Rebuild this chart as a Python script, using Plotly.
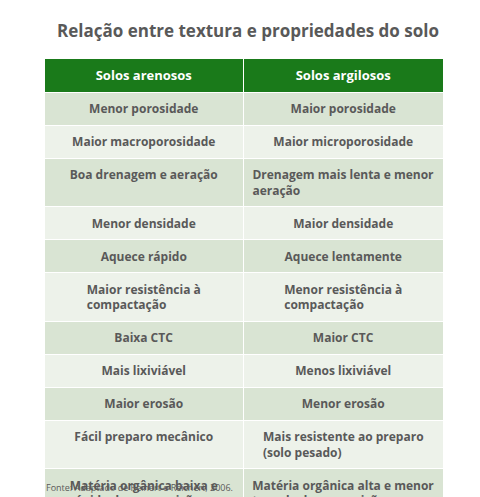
import plotly.graph_objects as go

header = ["Solos arenosos", "Solos argilosos"]
arenosos = ["Menor porosidade", "Maior macroporosidade", "Boa drenagem e aeração<br> ",
            "Menor densidade", "Aquece rápido", "Maior resistência à<br>compactação",
            "Baixa CTC", "Mais lixiviável", "Maior erosão", "Fácil preparo mecânico<br> ",
            "Matéria orgânica baixa e<br>rápida de composição"]
argilosos = ["Maior porosidade", "Maior microporosidade", "Drenagem mais lenta e menor<br>aeração",
             "Maior densidade", "Aquece lentamente", "Menor resistência à<br>compactação",
             "Maior CTC", "Menos lixiviável", "Menor erosão", "Mais resistente ao preparo<br>(solo pesado)",
             "Matéria orgânica alta e menor<br>taxa de decomposição"]

fills = ["#d9e4d3" if i % 2 == 0 else "#edf2ea" for i in range(len(arenosos))]
font = "Open Sans"

fig = go.Figure(go.Table(
    columnwidth=[1, 1],
    domain=dict(x=[36/480, 435/480], y=[0.0, 1-50/497]),
    header=dict(values=["<b>%s</b>" % h for h in header], fill_color="#1a7a1a",
                font=dict(color="white", size=13, family=font), align="center",
                height=22, line=dict(color="white", width=1)),
    cells=dict(values=[["<b>%s</b>" % t for t in arenosos], ["<b>%s</b>" % t for t in argilosos]],
               fill_color=[fills, fills], font=dict(color="#595959", size=12, family=font),
               align="center", height=21, line=dict(color="white", width=1)),
))
fig.update_layout(
    width=480, height=497, margin=dict(l=0, r=0, t=0, b=0), paper_bgcolor="white",
    title=dict(text="<b>Relação entre textura e propriedades do solo</b>", x=0.5, y=0.965,
               xanchor="center", font=dict(size=17, color="#595959", family=font)),
)
fig.add_annotation(text="Fonte: Adaptado de Reinert e Reichert, 2006.", x=36/480, y=0.035,
                   xref="paper", yref="paper", xanchor="left", yanchor="middle",
                   showarrow=False, font=dict(size=9, color="#595959", family=font))
fig.write_html("out.html")
